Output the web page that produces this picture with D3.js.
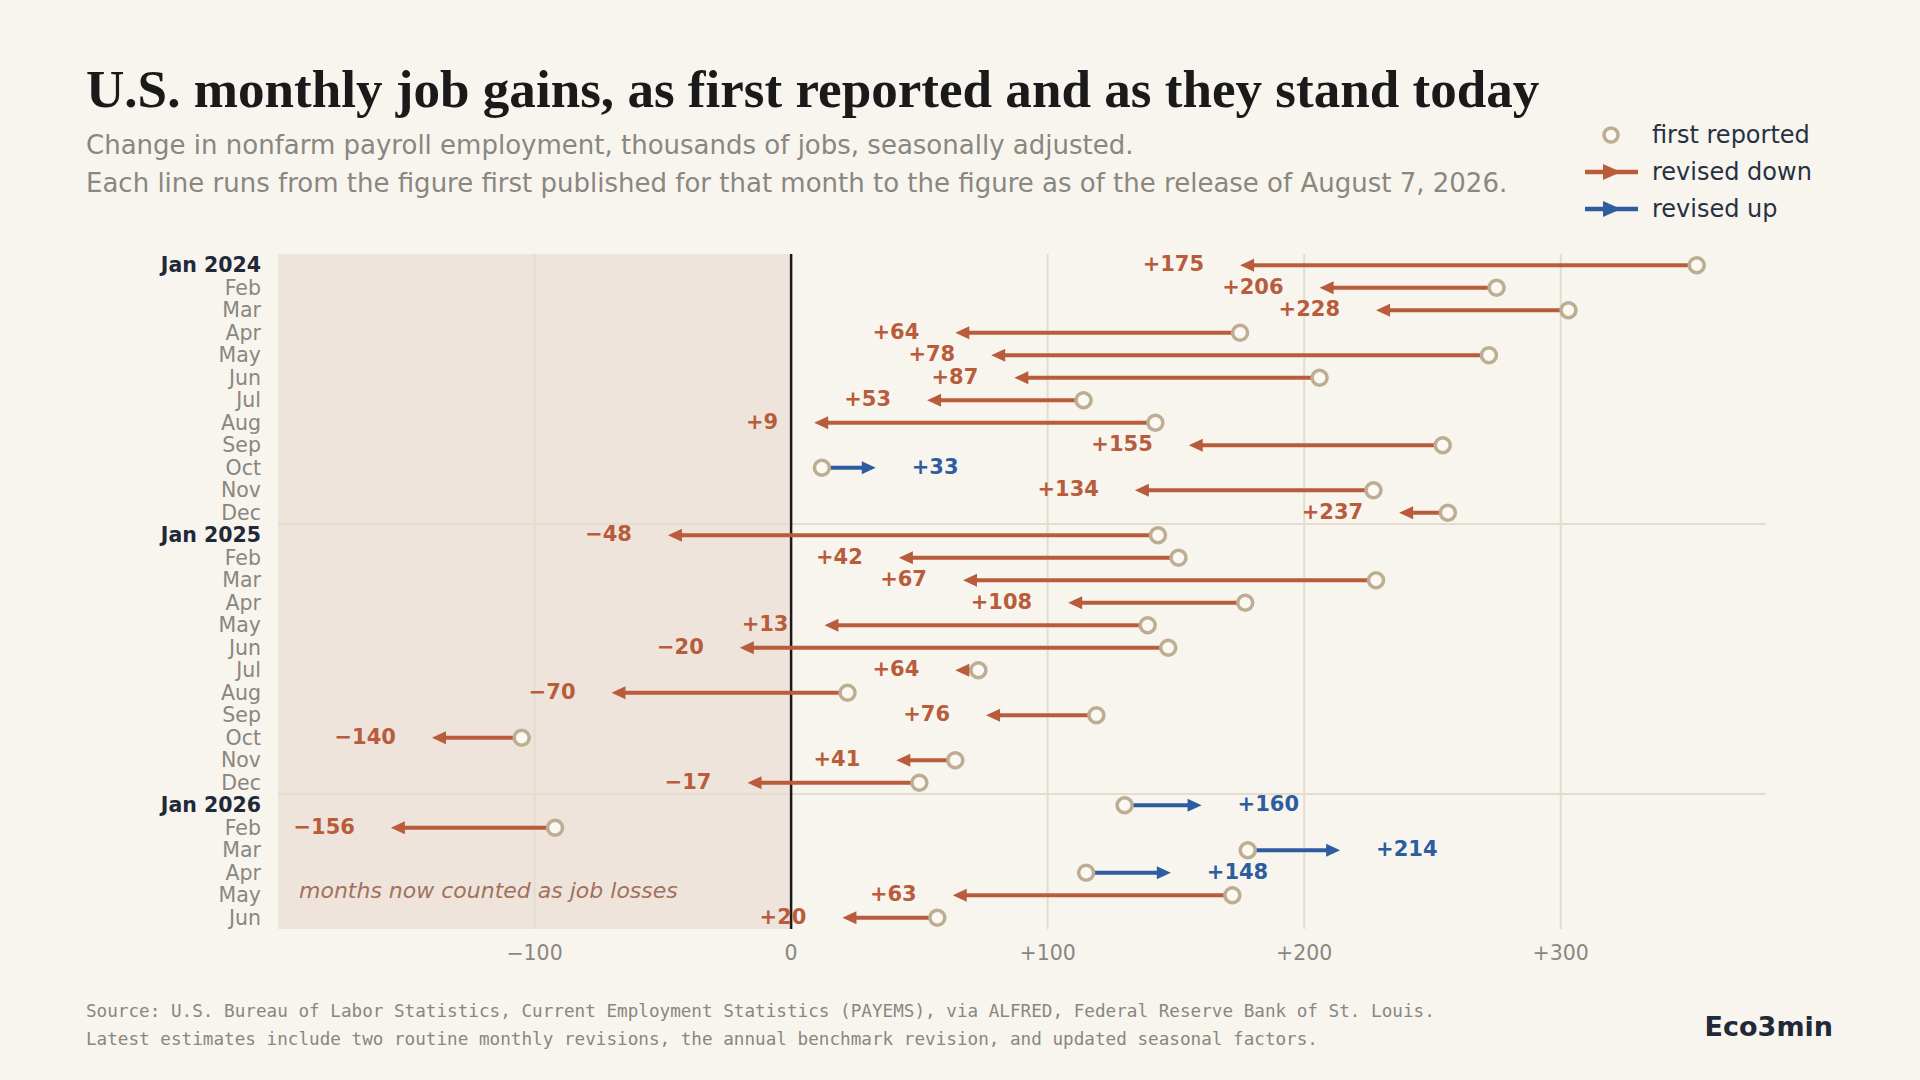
<!DOCTYPE html>
<html>
<head>
<meta charset="utf-8">
<script src="https://cdn.jsdelivr.net/npm/d3@7/dist/d3.min.js"></script>
<style>
  html, body { margin: 0; padding: 0; background: #f8f5ef; }
  svg { display: block; }
</style>
</head>
<body>
<svg id="chart" width="1920" height="1080"></svg>
<script>
// months, Jan 2024 .. Jun 2026
const periods = ["2024-01","2024-02","2024-03","2024-04","2024-05","2024-06","2024-07","2024-08","2024-09","2024-10","2024-11","2024-12",
                 "2025-01","2025-02","2025-03","2025-04","2025-05","2025-06","2025-07","2025-08","2025-09","2025-10","2025-11","2025-12",
                 "2026-01","2026-02","2026-03","2026-04","2026-05","2026-06"];
const monthLabels = ["Jan 2024","Feb","Mar","Apr","May","Jun","Jul","Aug","Sep","Oct","Nov","Dec",
                     "Jan 2025","Feb","Mar","Apr","May","Jun","Jul","Aug","Sep","Oct","Nov","Dec",
                     "Jan 2026","Feb","Mar","Apr","May","Jun"];
// first published estimate (thousands)
const firstReported = [353, 275, 303, 175, 272, 206, 114, 142, 254, 12, 227, 256,
                       143, 151, 228, 177, 139, 147, 73, 22, 119, -105, 64, 50,
                       130, -92, 178, 115, 172, 57];
// latest estimate as of Aug 7, 2026
const latest = [175, 206, 228, 64, 78, 87, 53, 9, 155, 33, 134, 237,
                -48, 42, 67, 108, 13, -20, 64, -70, 76, -140, 41, -17,
                160, -156, 214, 148, 63, 20];
const xTicks = [-100, 0, 100, 200, 300];

const data = periods.map((p, i) => ({
  period: p, label: monthLabels[i], first: firstReported[i], latest: latest[i]
}));

const W = 1920, H = 1080;
const margin = {top: 254, right: 154, bottom: 151, left: 278};
const downColor = "#b95c3b", upColor = "#2d5d9f";
const gridColor = "#e4ddce";
const circleStroke = "#bcad93";

const svg = d3.select("#chart");
svg.append("rect").attr("width", W).attr("height", H).attr("fill", "#f8f5ef");

const x = d3.scaleLinear()
  .domain([-200, 380])
  .range([margin.left, W - margin.right]);

const y = d3.scaleBand()
  .domain(periods)
  .range([margin.top, H - margin.bottom]);

const yc = p => y(p) + y.bandwidth() / 2;
const plotTop = margin.top, plotBottom = H - margin.bottom;

// shaded area for negative values
svg.append("rect")
  .attr("x", x(-200)).attr("y", plotTop)
  .attr("width", x(0) - x(-200)).attr("height", plotBottom - plotTop)
  .attr("fill", "#efe4db");

// vertical grid
svg.append("g").selectAll("line")
  .data(xTicks.filter(d => d !== 0))
  .join("line")
  .attr("x1", d => x(d)).attr("x2", d => x(d))
  .attr("y1", plotTop).attr("y2", plotBottom)
  .attr("stroke", gridColor).attr("stroke-width", 2);

// year separators
svg.append("g").selectAll("line")
  .data(periods.filter((p, i) => i > 0 && p.endsWith("-01")))
  .join("line")
  .attr("x1", x(-200)).attr("x2", x(380))
  .attr("y1", d => y(d)).attr("y2", d => y(d))
  .attr("stroke", gridColor).attr("stroke-width", 2);

// zero line
svg.append("line")
  .attr("x1", x(0)).attr("x2", x(0))
  .attr("y1", plotTop).attr("y2", plotBottom)
  .attr("stroke", "#1a1a1a").attr("stroke-width", 2.5);

// x tick labels
const fmt = d3.format("+");
svg.append("g").selectAll("text")
  .data(xTicks)
  .join("text")
  .attr("x", d => x(d)).attr("y", 953)
  .attr("text-anchor", "middle")
  .attr("dominant-baseline", "central")
  .attr("font-family", "DejaVu Sans")
  .attr("font-size", 20.5)
  .attr("fill", "#8a8680")
  .text(d => d === 0 ? "0" : fmt(d));

// y labels
svg.append("g").selectAll("text")
  .data(data)
  .join("text")
  .attr("x", 261).attr("y", d => yc(d.period))
  .attr("text-anchor", "end")
  .attr("dominant-baseline", "central")
  .attr("font-family", "DejaVu Sans")
  .attr("font-size", 20.5)
  .attr("font-weight", d => d.label.length > 3 ? "bold" : "normal")
  .attr("fill", d => d.label.length > 3 ? "#1f2937" : "#8a8680")
  .text(d => d.label);

// annotation
svg.append("text")
  .attr("x", 299).attr("y", 890)
  .attr("dominant-baseline", "central")
  .attr("font-family", "DejaVu Sans")
  .attr("font-style", "italic")
  .attr("font-size", 22)
  .attr("fill", "#a2715c")
  .text("months now counted as job losses");

// arrows
const headLen = 14, headHalf = 6.5;
const arrows = svg.append("g");
data.forEach(d => {
  const up = d.latest > d.first;
  const col = up ? upColor : downColor;
  const dir = up ? 1 : -1;
  const x0 = x(d.first), x1 = x(d.latest), cy = yc(d.period);
  arrows.append("line")
    .attr("x1", x0).attr("x2", x1 - dir * (headLen - 3))
    .attr("y1", cy).attr("y2", cy)
    .attr("stroke", col).attr("stroke-width", 4);
  arrows.append("path")
    .attr("d", `M${x1},${cy} L${x1 - dir * headLen},${cy - headHalf} L${x1 - dir * headLen},${cy + headHalf} Z`)
    .attr("fill", col);
  arrows.append("text")
    .attr("x", x1 + dir * 36).attr("y", cy - 1)
    .attr("text-anchor", up ? "start" : "end")
    .attr("dominant-baseline", "central")
    .attr("font-family", "DejaVu Sans")
    .attr("font-weight", "bold")
    .attr("font-size", 21)
    .attr("fill", col)
    .text(fmt(d.latest));
});

// first reported circles
svg.append("g").selectAll("circle")
  .data(data)
  .join("circle")
  .attr("cx", d => x(d.first)).attr("cy", d => yc(d.period))
  .attr("r", 7.5)
  .attr("fill", "#fbf8f2")
  .attr("stroke", circleStroke).attr("stroke-width", 3.5);

// title and subtitle
svg.append("text")
  .attr("x", 86).attr("y", 107)
  .attr("font-family", "Liberation Serif")
  .attr("font-weight", "bold")
  .attr("font-size", 53.1)
  .attr("fill", "#1a1a1a")
  .text("U.S. monthly job gains, as first reported and as they stand today");

const subtitle = [
  "Change in nonfarm payroll employment, thousands of jobs, seasonally adjusted.",
  "Each line runs from the figure first published for that month to the figure as of the release of August 7, 2026."
];
svg.append("g").selectAll("text")
  .data(subtitle)
  .join("text")
  .attr("x", 86).attr("y", (d, i) => 145 + i * 38)
  .attr("dominant-baseline", "central")
  .attr("font-family", "DejaVu Sans")
  .attr("font-size", 26)
  .attr("fill", "#8a8680")
  .text(d => d);

// legend
const lg = svg.append("g");
const legendItems = ["first reported", "revised down", "revised up"];
lg.append("circle")
  .attr("cx", 1611).attr("cy", 135).attr("r", 7)
  .attr("fill", "#fbf8f2").attr("stroke", circleStroke).attr("stroke-width", 3.5);
[downColor, upColor].forEach((c, i) => {
  const ly = 172 + i * 37;
  lg.append("line")
    .attr("x1", 1585).attr("x2", 1638).attr("y1", ly).attr("y2", ly)
    .attr("stroke", c).attr("stroke-width", 4.5);
  lg.append("path")
    .attr("d", `M1621,${ly} L1603,${ly - 8} L1603,${ly + 8} Z`)
    .attr("fill", c);
});
lg.selectAll("text")
  .data(legendItems)
  .join("text")
  .attr("x", 1652).attr("y", (d, i) => 135 + i * 37)
  .attr("dominant-baseline", "central")
  .attr("font-family", "DejaVu Sans")
  .attr("font-size", 24)
  .attr("fill", "#263142")
  .text(d => d);

// footer
const notes = [
  "Source: U.S. Bureau of Labor Statistics, Current Employment Statistics (PAYEMS), via ALFRED, Federal Reserve Bank of St. Louis.",
  "Latest estimates include two routine monthly revisions, the annual benchmark revision, and updated seasonal factors."
];
svg.append("g").selectAll("text")
  .data(notes)
  .join("text")
  .attr("x", 86).attr("y", (d, i) => 1011 + i * 28)
  .attr("dominant-baseline", "central")
  .attr("font-family", "DejaVu Sans Mono")
  .attr("font-size", 17.65)
  .attr("fill", "#8a8680")
  .text(d => d);

svg.append("text")
  .attr("x", 1833).attr("y", 1026)
  .attr("text-anchor", "end")
  .attr("dominant-baseline", "central")
  .attr("font-family", "DejaVu Sans")
  .attr("font-weight", "bold")
  .attr("font-size", 27)
  .attr("fill", "#1f2937")
  .text("Eco3min");
</script>
</body>
</html>
